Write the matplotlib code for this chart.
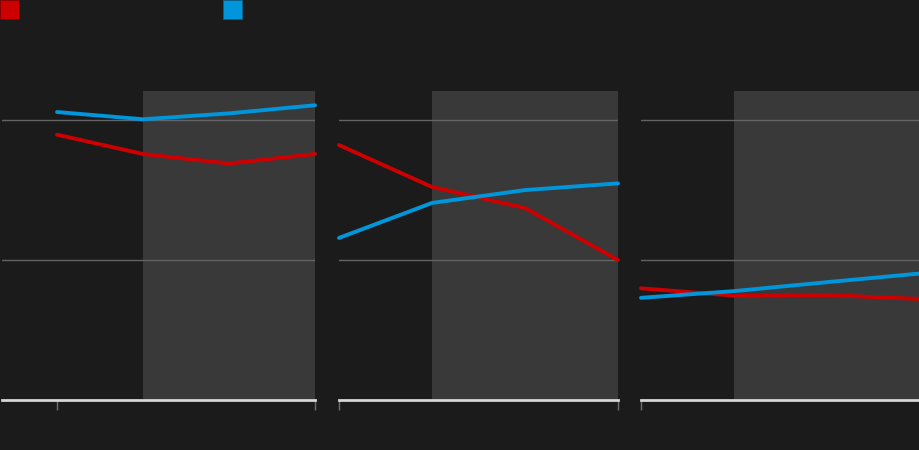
import matplotlib
matplotlib.use("Agg")
import matplotlib.pyplot as plt
from matplotlib.patches import Rectangle

# Data
periods = [0, 1, 2, 3]
red_series = [
    [94.8, 87.9, 84.5, 87.9],
    [91.1, 76.1, 68.6, 50.0],
    [39.9, 37.3, 37.5, 36.1],
]
blue_series = [
    [102.9, 100.3, 102.4, 105.3],
    [57.9, 70.4, 75.0, 77.4],
    [36.5, 38.9, 42.1, 45.2],
]
grid_values = [50, 100]
y_max = 110.4

BG = "#1b1b1b"
SHADE = "#393939"
RED = "#cc0000"
BLUE = "#0096db"

W, H = 920, 450
fig = plt.figure(figsize=(W / 100, H / 100), dpi=100, facecolor=BG)

panels_px = [(2, 315, -0.64), (339, 618, 0.0), (641, 920, 0.0)]
top_px, bot_px = 91, 400

for i, (l, r, xl) in enumerate(panels_px):
    ax = fig.add_axes([l / W, 1 - bot_px / H, (r - l) / W, (bot_px - top_px) / H])
    ax.set_facecolor(BG)
    ax.set_xlim(xl, periods[-1])
    ax.set_ylim(0, y_max)
    ax.axvspan(periods[1], periods[-1], color=SHADE, zorder=0, lw=0)
    for g in grid_values:
        ax.axhline(g, color="#636363", lw=1.0, zorder=1)
    ax.plot(periods, red_series[i], color=RED, lw=2.8, zorder=3,
            solid_capstyle="round", clip_on=False)
    ax.plot(periods, blue_series[i], color=BLUE, lw=2.8, zorder=4,
            solid_capstyle="round", clip_on=False)
    for s in ["top", "left", "right"]:
        ax.spines[s].set_visible(False)
    ax.spines["bottom"].set_color("#d6d6d6")
    ax.spines["bottom"].set_linewidth(2.0)
    ax.spines["bottom"].set_zorder(5)
    ax.set_yticks([])
    ax.set_xticks([periods[0], periods[-1]])
    ax.set_xticklabels([])
    ax.tick_params(axis="x", color="#6e6e6e", length=7, width=1.0)

# Legend swatches
fig.add_artist(Rectangle((0 / W, 1 - 19 / H), 19 / W, 19 / H, transform=fig.transFigure,
                         facecolor=RED, edgecolor="#8a0000", lw=0.6))
fig.add_artist(Rectangle((223 / W, 1 - 19 / H), 19 / W, 19 / H, transform=fig.transFigure,
                         facecolor=BLUE, edgecolor="#0a5f88", lw=0.6))

fig.savefig("out.png", dpi=100, facecolor=BG)
